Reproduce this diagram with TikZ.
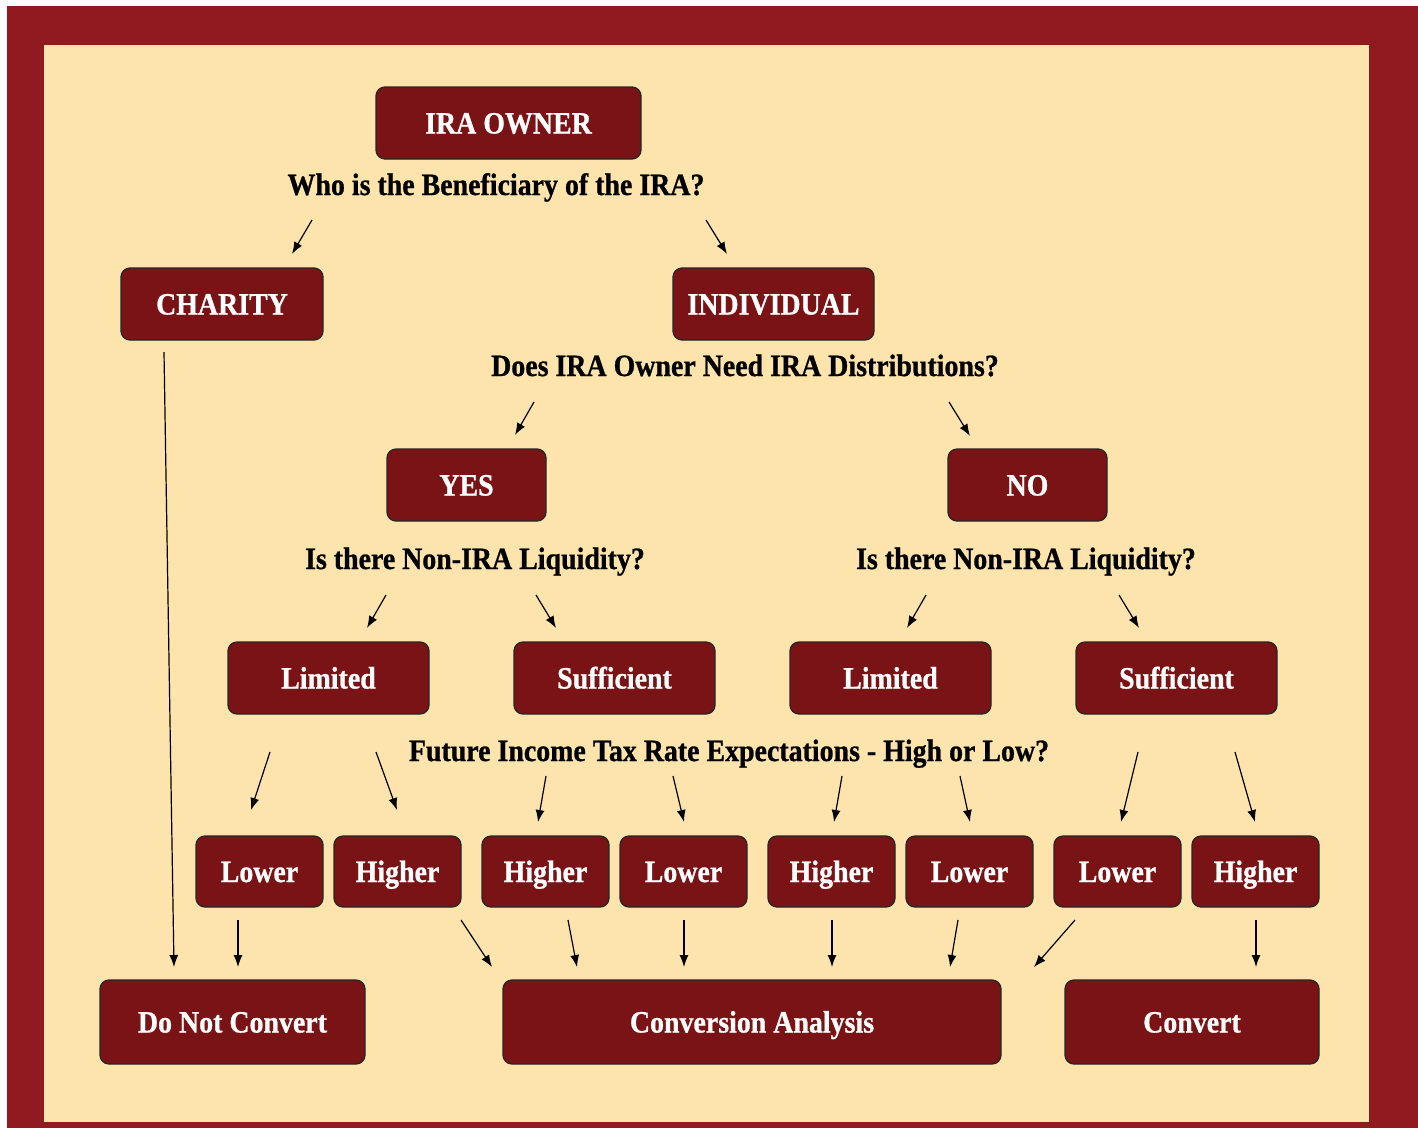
\documentclass[tikz,border=0pt]{standalone}
\usepackage{fontspec}
\setmainfont{Liberation Serif}[FakeStretch=0.9, BoldFeatures={FakeBold=0.8}]
\usetikzlibrary{arrows.meta}
\definecolor{frame}{HTML}{8F1A20}
\definecolor{cream}{HTML}{FDE3AC}
\definecolor{boxred}{HTML}{7A1315}
\tikzset{
  box/.style={draw=black!85, line width=1.3pt, fill=boxred, rounded corners=9pt,
    text=white, font=\fontsize{31}{36}\selectfont\bfseries, inner sep=0pt, anchor=center,
    text height=21pt, text depth=0pt},
  q/.style={text=black, font=\fontsize{31}{36}\selectfont\bfseries, inner sep=0pt, anchor=base},
  arr/.style={-{Latex[length=12pt,width=9pt]}, line width=1.2pt, black},
}
\begin{document}
\begin{tikzpicture}[x=1pt,y=-1pt]
\useasboundingbox (0,0) rectangle (1418,1128);
\fill[white] (0,0) rectangle (1418,1128);
\fill[frame] (7,6) rectangle (1418,1128);
\fill[cream] (44,45) rectangle (1369,1122);

% nodes
\node[box, minimum width=265pt, minimum height=72pt] (own) at (508.5,123) {IRA OWNER};
\node[q] (q1) at (496,195) {Who is the Beneficiary of the IRA?};
\node[box, minimum width=202pt, minimum height=72pt] (cha) at (222,304) {CHARITY};
\node[box, minimum width=201pt, minimum height=72pt] (ind) at (773.5,304) {INDIVIDUAL};
\node[q] (q2) at (745,376) {Does IRA Owner Need IRA Distributions?};
\node[box, minimum width=159pt, minimum height=72pt] (yes) at (466.5,485) {YES};
\node[box, minimum width=159pt, minimum height=72pt] (no) at (1027.5,485) {NO};
\node[q] (q3) at (475,569) {Is there Non-IRA Liquidity?};
\node[q] (q4) at (1026,569) {Is there Non-IRA Liquidity?};
\node[box, minimum width=201pt, minimum height=72pt] (lim1) at (328.5,678) {Limited};
\node[box, minimum width=201pt, minimum height=72pt] (suf1) at (614.5,678) {Sufficient};
\node[box, minimum width=201pt, minimum height=72pt] (lim2) at (890.5,678) {Limited};
\node[box, minimum width=201pt, minimum height=72pt] (suf2) at (1176.5,678) {Sufficient};
\node[q] (q5) at (729,761) {Future Income Tax Rate Expectations - High or Low?};
\node[box, minimum width=127pt, minimum height=71pt] (lo1) at (259.5,871.5) {Lower};
\node[box, minimum width=127pt, minimum height=71pt] (hi1) at (397.5,871.5) {Higher};
\node[box, minimum width=127pt, minimum height=71pt] (hi2) at (545.5,871.5) {Higher};
\node[box, minimum width=127pt, minimum height=71pt] (lo2) at (683.5,871.5) {Lower};
\node[box, minimum width=127pt, minimum height=71pt] (hi3) at (831.5,871.5) {Higher};
\node[box, minimum width=127pt, minimum height=71pt] (lo3) at (969.5,871.5) {Lower};
\node[box, minimum width=127pt, minimum height=71pt] (lo4) at (1117.5,871.5) {Lower};
\node[box, minimum width=127pt, minimum height=71pt] (hi4) at (1255.5,871.5) {Higher};
\node[box, minimum width=265pt, minimum height=84pt] (dnc) at (232.5,1022) {Do Not Convert};
\node[box, minimum width=498pt, minimum height=84pt] (ca) at (752,1022) {Conversion Analysis};
\node[box, minimum width=254pt, minimum height=84pt] (cv) at (1192,1022) {Convert};

% arrow end points
\coordinate (a1s) at (312,220); \coordinate (a1e) at (292,254);
\coordinate (a2s) at (706,220); \coordinate (a2e) at (727,254);
\coordinate (a3s) at (534,402); \coordinate (a3e) at (515,435);
\coordinate (a4s) at (949,402); \coordinate (a4e) at (970,436);
\coordinate (a5s) at (386,595); \coordinate (a5e) at (367,628);
\coordinate (a6s) at (536,595); \coordinate (a6e) at (556,628);
\coordinate (a7s) at (926,595); \coordinate (a7e) at (907,628);
\coordinate (a8s) at (1119,595); \coordinate (a8e) at (1139,628);
\coordinate (b1s) at (270,752); \coordinate (b1e) at (251,810);
\coordinate (b2s) at (376,752); \coordinate (b2e) at (397,810);
\coordinate (b3s) at (546,776); \coordinate (b3e) at (538,822);
\coordinate (b4s) at (673,776); \coordinate (b4e) at (684,822);
\coordinate (b5s) at (842,776); \coordinate (b5e) at (834,822);
\coordinate (b6s) at (960,776); \coordinate (b6e) at (970,822);
\coordinate (b7s) at (1138,752); \coordinate (b7e) at (1121,822);
\coordinate (b8s) at (1235,752); \coordinate (b8e) at (1255,822);
\coordinate (c0s) at (164,352); \coordinate (c0e) at (174,967);
\coordinate (c1s) at (238,920); \coordinate (c1e) at (238,967);
\coordinate (c2s) at (461,920); \coordinate (c2e) at (492,967);
\coordinate (c3s) at (568,920); \coordinate (c3e) at (577,967);
\coordinate (c4s) at (684,920); \coordinate (c4e) at (684,967);
\coordinate (c5s) at (832,920); \coordinate (c5e) at (832,967);
\coordinate (c6s) at (958,920); \coordinate (c6e) at (950,967);
\coordinate (c7s) at (1075,920); \coordinate (c7e) at (1034,967);
\coordinate (c8s) at (1256,920); \coordinate (c8e) at (1256,967);

\foreach \n in {a1,a2,a3,a4,a5,a6,a7,a8,b1,b2,b3,b4,b5,b6,b7,b8,c0,c1,c2,c3,c4,c5,c6,c7,c8}
  \draw[arr] (\n s) -- (\n e);
\end{tikzpicture}
\end{document}
